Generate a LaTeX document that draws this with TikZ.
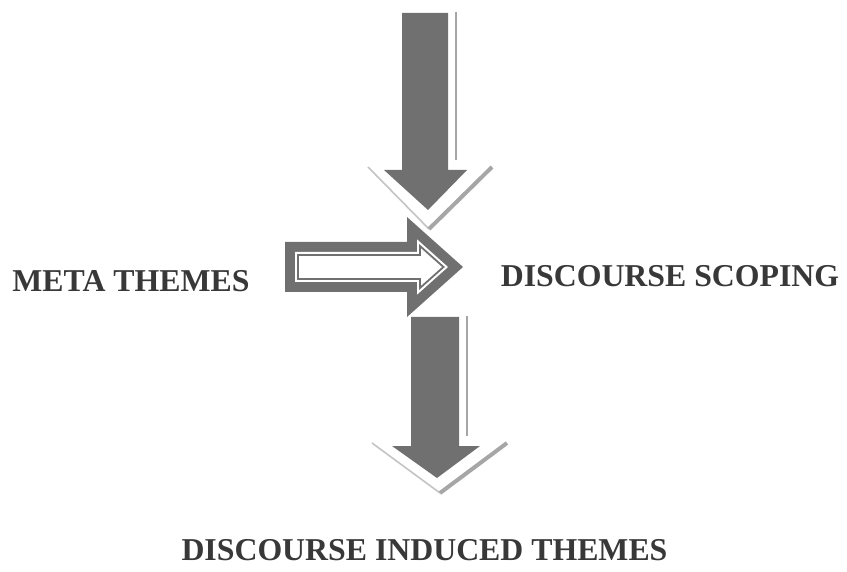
\documentclass[tikz,border=0pt]{standalone}
\usepackage{fontspec}
\setmainfont{Liberation Serif}
\definecolor{arrowgray}{HTML}{707070}
\definecolor{lightshade}{HTML}{C4C4C4}
\definecolor{midshade}{HTML}{A6A6A6}
\definecolor{textgray}{HTML}{383838}
\tikzset{
  label text/.style={font=\fontsize{31.8}{36}\selectfont\bfseries, text=textgray, anchor=base, inner sep=0pt},
  shaft fill/.style={fill=arrowgray, draw=none},
  shade left/.style={draw=lightshade, line width=1.6pt},
  shade right/.style={draw=midshade, line width=4pt},
  shade line/.style={draw=midshade, line width=1.8pt},
}
\newcommand{\rightpoly}[1]{({285+#1},{242+#1}) -- ({407+#1},{242+#1}) -- ({407+#1},{217+2.233*#1}) -- ({463-1.5*#1},267) -- ({407+#1},{317-2.233*#1}) -- ({407+#1},{292-#1}) -- ({285+#1},{292-#1}) -- cycle}
\begin{document}
\begin{tikzpicture}[x=1pt,y=-1pt]
\useasboundingbox (0,0) rectangle (847,572);
\fill[white] (0,0) rectangle (847,572);

% ---- top down arrow ----
\draw[shade line] (456,12) -- (456,160);
\draw[shade left] (368,167) -- (429,229);
\draw[shade right] (429,229) -- (492,167);
\fill[shaft fill] (402,13) -- (448,13) -- (448,170) -- (467,170) -- (428,210) -- (384,170) -- (402,170) -- cycle;

% ---- bottom down arrow ----
\draw[shade line] (467,316) -- (467,436);
\draw[shade left] (372,443) -- (440,493);
\draw[shade right] (440,493) -- (507,443);
\fill[shaft fill] (411,317) -- (459,317) -- (459,446) -- (480,446) -- (437,478) -- (392,446) -- (411,446) -- cycle;

% ---- right arrow (outlined) ----
\fill[arrowgray] \rightpoly{0};
\fill[white] \rightpoly{10};
\draw[arrowgray, line width=1.8pt, line join=miter] \rightpoly{13};

% ---- labels ----
\node[label text] (meta) at (131,292) {META THEMES};
\node[label text] (scoping) at (670,287) {DISCOURSE SCOPING};
\node[label text] (induced) at (424.5,560) {DISCOURSE INDUCED THEMES};
\end{tikzpicture}
\end{document}
